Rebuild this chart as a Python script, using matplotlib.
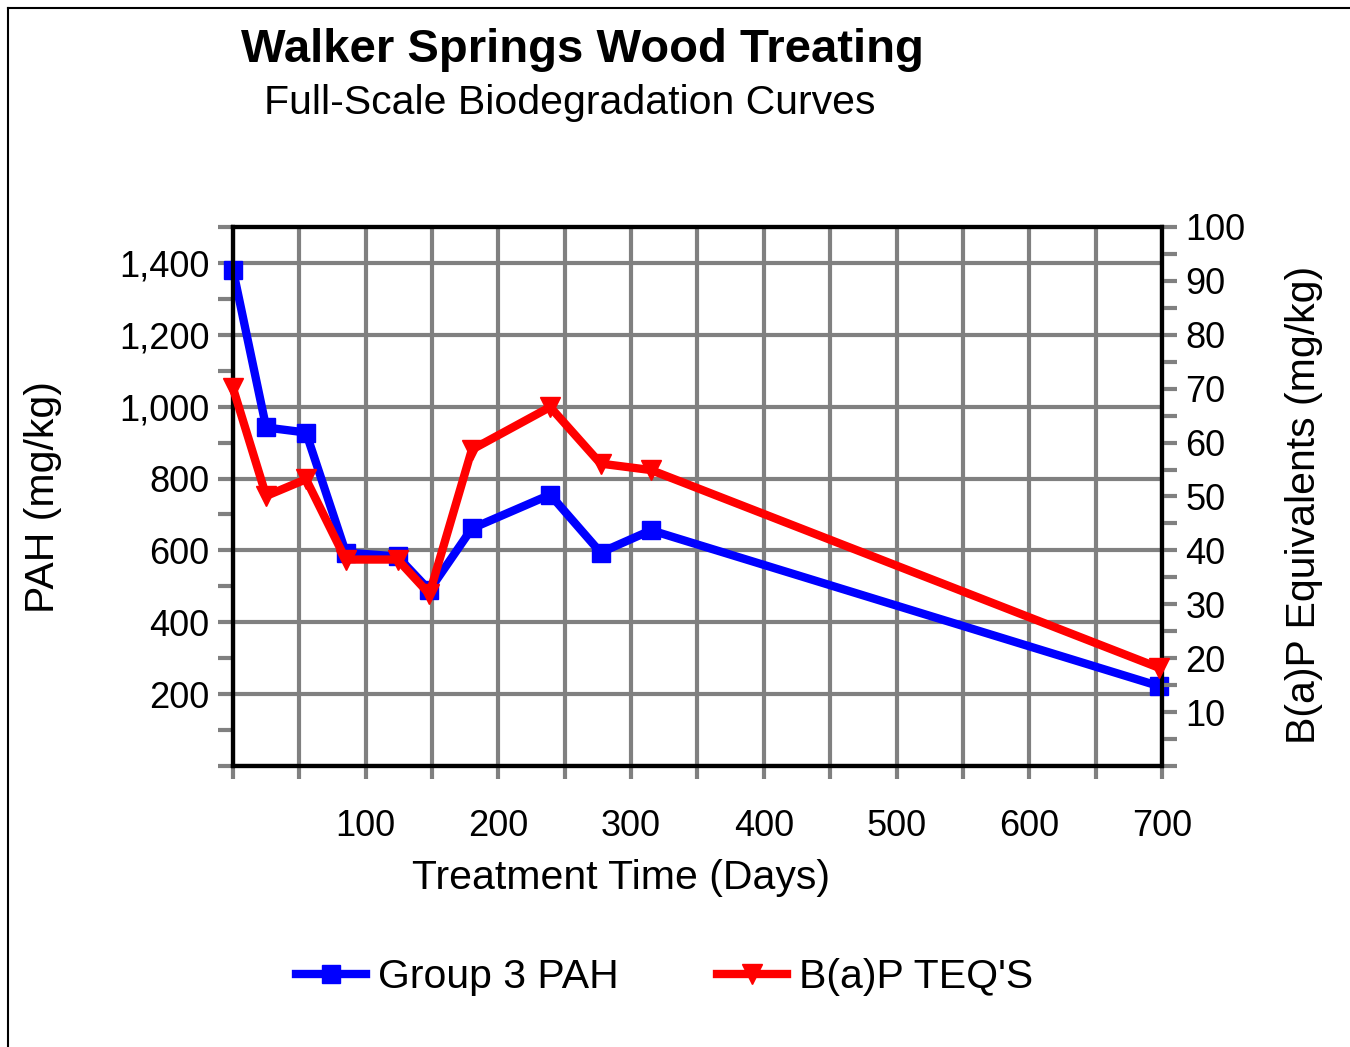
import matplotlib
matplotlib.use("Agg")
import matplotlib.pyplot as plt
from matplotlib.lines import Line2D
from matplotlib.ticker import MultipleLocator, FuncFormatter

plt.rcParams["font.family"] = ["Liberation Sans", "DejaVu Sans"]

# treatment time (days)
days = [0, 25, 55, 85, 124, 148, 180, 239, 277, 315, 698]
# Group 3 PAH (mg/kg), left axis
pah = [1380, 942, 928, 594, 583, 489, 661, 755, 594, 656, 222]
# B(a)P TEQ's (mg/kg), right axis
teq = [70.1, 50.1, 53.2, 38.3, 38.3, 31.9, 58.7, 66.6, 56.1, 54.9, 18.2]

GREY = "#808080"

fig = plt.figure(figsize=(13.5, 10.47), dpi=100)
ax = fig.add_axes([0.1726, 0.2684, 0.6881, 0.5148])
ax2 = ax.twinx()

ax.plot(days, pah, color="#0000ff", lw=6, marker="s", ms=13,
        label="Group 3 PAH", zorder=3, clip_on=False)
ax2.plot(days, teq, color="#ff0000", lw=6, marker="v", ms=14,
         label="B(a)P TEQ'S", zorder=3, clip_on=False)

ax.set_xlim(0, 700)
ax.set_ylim(0, 1500)
ax2.set_ylim(0, 100)

ax.xaxis.set_major_locator(MultipleLocator(100))
ax.xaxis.set_minor_locator(MultipleLocator(50))
ax.yaxis.set_major_locator(MultipleLocator(200))
ax.yaxis.set_minor_locator(MultipleLocator(100))
ax2.yaxis.set_major_locator(MultipleLocator(10))
ax2.yaxis.set_minor_locator(MultipleLocator(5))

ax.xaxis.set_major_formatter(FuncFormatter(lambda v, p: "" if v == 0 else f"{v:.0f}"))
ax.yaxis.set_major_formatter(FuncFormatter(lambda v, p: "" if v == 0 else f"{v:,.0f}"))
ax2.yaxis.set_major_formatter(FuncFormatter(lambda v, p: "" if v == 0 else f"{v:.0f}"))

ax.grid(True, which="both", axis="x", color=GREY, lw=3, zorder=1)
ax.grid(True, which="major", axis="y", color=GREY, lw=3, zorder=1)
ax.set_axisbelow(True)

for a in (ax, ax2):
    for s in a.spines.values():
        s.set_linewidth(3)
        s.set_color("black")
        s.set_zorder(2.5)

ax.tick_params(axis="x", which="both", direction="out", length=9, width=3,
               color=GREY, labelsize=26, pad=22)
ax.tick_params(axis="y", which="both", direction="out", length=11, width=3,
               color=GREY, labelsize=26, pad=6)
ax2.tick_params(axis="y", which="both", direction="out", length=11, width=3,
                color=GREY, labelsize=26, pad=6)

ax.set_xlabel("Treatment Time (Days)", fontsize=29.5)
ax.xaxis.set_label_coords(0.418, -0.172)
ax.set_ylabel("PAH (mg/kg)", fontsize=29.5)
ax.yaxis.set_label_coords(-0.184, 0.499)
ax2.set_ylabel("B(a)P Equivalents (mg/kg)", fontsize=29.5, rotation=90)
ax2.yaxis.set_label_coords(1.132, 0.484)

fig.text(582 / 1350, 1 - 50 / 1047, "Walker Springs Wood Treating",
         fontsize=34, fontweight="bold", ha="center", va="center")
fig.text(570 / 1350, 1 - 103 / 1047, "Full-Scale Biodegradation Curves",
         fontsize=29.5, ha="center", va="center")

handles = [ax.get_lines()[0], ax2.get_lines()[0]]
fig.legend(handles, [h.get_label() for h in handles], loc="center",
           bbox_to_anchor=(0.4926, 0.0669), ncol=2, frameon=False,
           fontsize=29.5, handlelength=1.7, columnspacing=2.4, handletextpad=0.3)

# partial outer frame (left and top edges)
fig.add_artist(Line2D([0.006, 0.006], [0, 0.9924], color="black", lw=1.5,
                      transform=fig.transFigure))
fig.add_artist(Line2D([0.006, 1], [0.9924, 0.9924], color="black", lw=1.5,
                      transform=fig.transFigure))

fig.savefig("out.png", dpi=100)
